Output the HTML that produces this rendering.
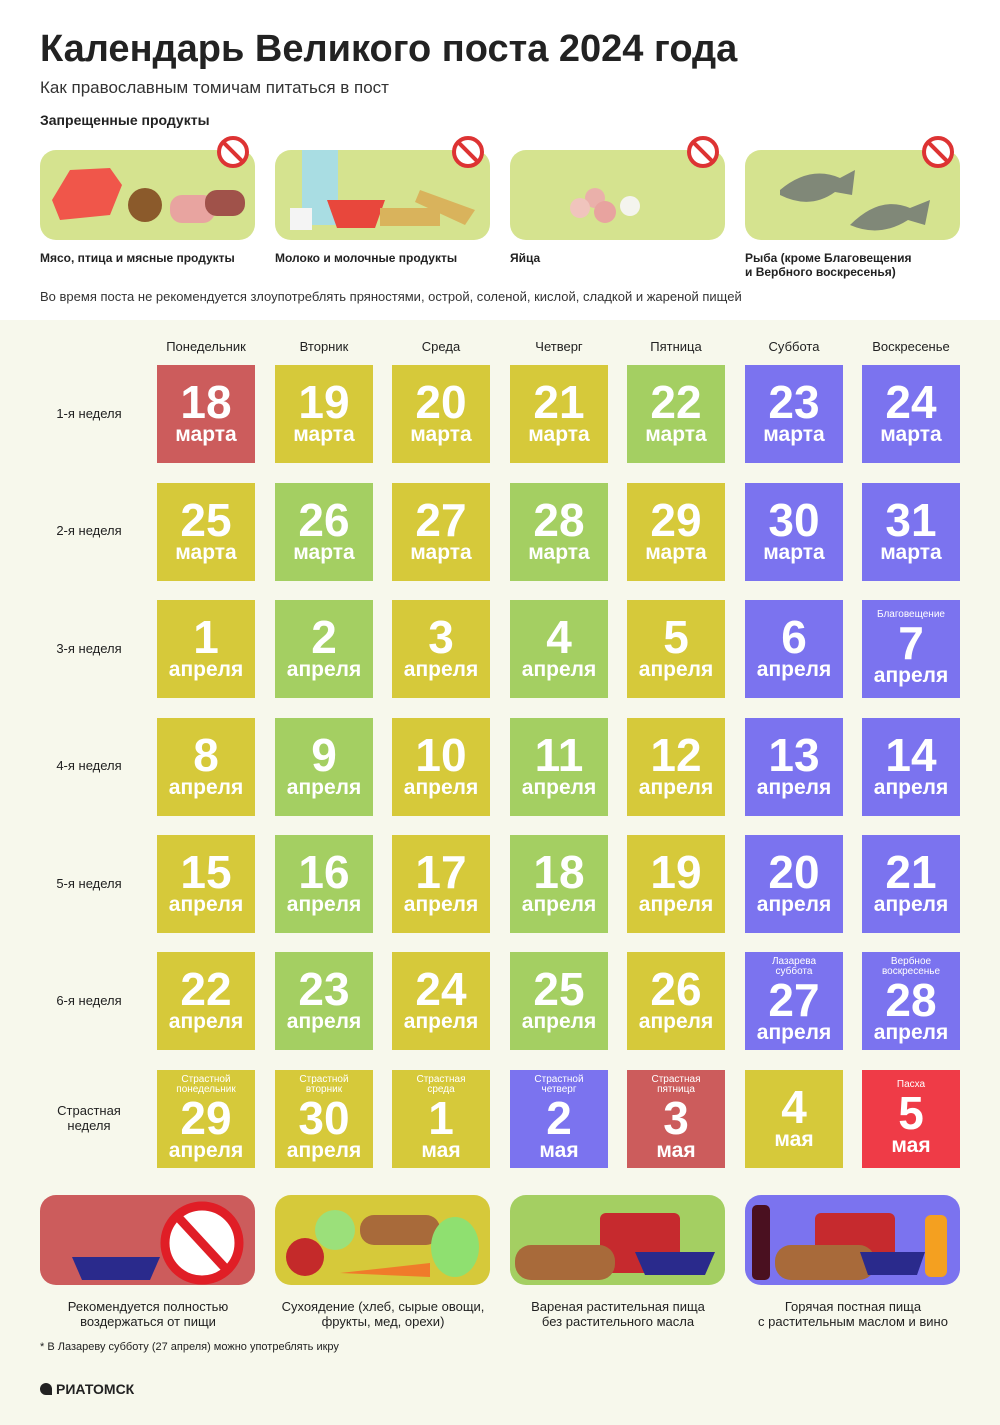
<!DOCTYPE html><html><head><meta charset="utf-8"><style>
body{margin:0;width:1000px;height:1425px;position:relative;background:#fff;font-family:"Liberation Sans",sans-serif;overflow:hidden}
.a{position:absolute}
.bg{position:absolute;left:0;top:320px;width:1000px;height:1105px;background:#f7f8ec}
.c{position:absolute;width:98px;height:98px;color:#fff;display:flex;flex-direction:column;align-items:center;justify-content:center;font-family:"Liberation Sans Narrow","Liberation Sans",sans-serif;font-weight:bold}
.c b{font-size:46px;line-height:42px}
.c i{font-style:normal;font-size:21px;line-height:24px}
.c s{text-decoration:none;font-size:10px;line-height:10px;font-weight:normal;text-align:center;margin-bottom:2px}
.Y{background:#d6c93a}.G{background:#a4cf62}.P{background:#7b73ef}.R{background:#cc5c5c}.B{background:#ef3b47}
.day{position:absolute;top:339px;width:98px;text-align:center;font-size:13px;color:#222}
.wk{position:absolute;left:30px;width:118px;text-align:center;font-size:13px;color:#222}
.tp{position:absolute;top:150px;width:215px;height:90px;border-radius:16px;background:#d5e38f}
.tl{position:absolute;top:251px;font-size:12px;font-weight:bold;color:#222}
.bp{position:absolute;top:1195px;width:215px;height:90px;border-radius:16px}
.bl{position:absolute;top:1299px;width:240px;text-align:center;font-size:13px;color:#222;line-height:15px}
.no{position:absolute;width:24px;height:24px;border:4px solid #d33;border-radius:50%;background:#fff;top:136px}
.no:after{content:"";position:absolute;left:-2px;top:10px;width:28px;height:4px;background:#d33;transform:rotate(45deg)}
</style></head><body>
<div class="bg"></div>
<div class="a" style="left:40px;top:28px;font-size:38px;font-weight:bold;color:#222">Календарь Великого поста 2024 года</div>
<div class="a" style="left:40px;top:78px;font-size:17px;color:#333">Как православным томичам питаться в пост</div>
<div class="a" style="left:40px;top:112px;font-size:14px;font-weight:bold;color:#222">Запрещенные продукты</div>
<div class="tp" style="left:40px"></div><div class="tp" style="left:275px"></div><div class="tp" style="left:510px"></div><div class="tp" style="left:745px"></div>
<div class="no" style="left:217px"></div><div class="no" style="left:452px"></div><div class="no" style="left:687px"></div><div class="no" style="left:922px"></div>
<svg class="a" style="left:40px;top:140px" width="920" height="100">
<path d="M12 60 L30 30 L70 28 L82 45 L70 75 L20 80Z" fill="#f0564a"/><ellipse cx="105" cy="65" rx="17" ry="17" fill="#8b5a2b"/><rect x="130" y="55" width="45" height="28" rx="12" fill="#e8a4a0"/><rect x="165" y="50" width="40" height="26" rx="12" fill="#a0524a"/>
<rect x="262" y="10" width="36" height="75" fill="#a9dde3"/><rect x="250" y="68" width="22" height="22" fill="#f4f4f4"/><path d="M287 60 L345 60 L335 88 L297 88Z" fill="#e8473c"/><rect x="340" y="68" width="60" height="18" fill="#d9b35c"/><path d="M380 50 L435 70 L425 85 L375 62Z" fill="#d9b35c"/>
<circle cx="555" cy="58" r="10" fill="#eab0aa"/><circle cx="540" cy="68" r="10" fill="#f0c4bd"/><circle cx="565" cy="72" r="11" fill="#e8a39f"/><circle cx="590" cy="66" r="10" fill="#f4f4ee"/>
<path d="M740 50 Q770 25 800 38 L815 30 L812 55 L795 52 Q770 70 740 55Z" fill="#808878"/><path d="M810 85 Q840 55 870 68 L890 60 L885 85 L868 80 Q840 98 810 85Z" fill="#808878"/>
</svg>
<div class="tl" style="left:40px">Мясо, птица и мясные продукты</div>
<div class="tl" style="left:275px">Молоко и молочные продукты</div>
<div class="tl" style="left:510px">Яйца</div>
<div class="tl" style="left:745px">Рыба (кроме Благовещения<br>и Вербного воскресенья)</div>
<div class="a" style="left:40px;top:289px;font-size:13px;color:#333">Во время поста не рекомендуется злоупотреблять пряностями, острой, соленой, кислой, сладкой и жареной пищей</div>

<div class="day" style="left:157px">Понедельник</div><div class="day" style="left:275px">Вторник</div><div class="day" style="left:392px">Среда</div><div class="day" style="left:510px">Четверг</div><div class="day" style="left:627px">Пятница</div><div class="day" style="left:745px">Суббота</div><div class="day" style="left:862px">Воскресенье</div>
<div class="wk" style="top:406px">1-я неделя</div><div class="wk" style="top:523px">2-я неделя</div><div class="wk" style="top:641px">3-я неделя</div><div class="wk" style="top:758px">4-я неделя</div><div class="wk" style="top:876px">5-я неделя</div><div class="wk" style="top:993px">6-я неделя</div><div class="wk" style="top:1103px">Страстная<br>неделя</div>

<div class="c R" style="left:157px;top:365px"><b>18</b><i>марта</i></div>
<div class="c Y" style="left:275px;top:365px"><b>19</b><i>марта</i></div>
<div class="c Y" style="left:392px;top:365px"><b>20</b><i>марта</i></div>
<div class="c Y" style="left:510px;top:365px"><b>21</b><i>марта</i></div>
<div class="c G" style="left:627px;top:365px"><b>22</b><i>марта</i></div>
<div class="c P" style="left:745px;top:365px"><b>23</b><i>марта</i></div>
<div class="c P" style="left:862px;top:365px"><b>24</b><i>марта</i></div>

<div class="c Y" style="left:157px;top:483px"><b>25</b><i>марта</i></div>
<div class="c G" style="left:275px;top:483px"><b>26</b><i>марта</i></div>
<div class="c Y" style="left:392px;top:483px"><b>27</b><i>марта</i></div>
<div class="c G" style="left:510px;top:483px"><b>28</b><i>марта</i></div>
<div class="c Y" style="left:627px;top:483px"><b>29</b><i>марта</i></div>
<div class="c P" style="left:745px;top:483px"><b>30</b><i>марта</i></div>
<div class="c P" style="left:862px;top:483px"><b>31</b><i>марта</i></div>

<div class="c Y" style="left:157px;top:600px"><b>1</b><i>апреля</i></div>
<div class="c G" style="left:275px;top:600px"><b>2</b><i>апреля</i></div>
<div class="c Y" style="left:392px;top:600px"><b>3</b><i>апреля</i></div>
<div class="c G" style="left:510px;top:600px"><b>4</b><i>апреля</i></div>
<div class="c Y" style="left:627px;top:600px"><b>5</b><i>апреля</i></div>
<div class="c P" style="left:745px;top:600px"><b>6</b><i>апреля</i></div>
<div class="c P" style="left:862px;top:600px"><s>Благовещение</s><b>7</b><i>апреля</i></div>

<div class="c Y" style="left:157px;top:718px"><b>8</b><i>апреля</i></div>
<div class="c G" style="left:275px;top:718px"><b>9</b><i>апреля</i></div>
<div class="c Y" style="left:392px;top:718px"><b>10</b><i>апреля</i></div>
<div class="c G" style="left:510px;top:718px"><b>11</b><i>апреля</i></div>
<div class="c Y" style="left:627px;top:718px"><b>12</b><i>апреля</i></div>
<div class="c P" style="left:745px;top:718px"><b>13</b><i>апреля</i></div>
<div class="c P" style="left:862px;top:718px"><b>14</b><i>апреля</i></div>

<div class="c Y" style="left:157px;top:835px"><b>15</b><i>апреля</i></div>
<div class="c G" style="left:275px;top:835px"><b>16</b><i>апреля</i></div>
<div class="c Y" style="left:392px;top:835px"><b>17</b><i>апреля</i></div>
<div class="c G" style="left:510px;top:835px"><b>18</b><i>апреля</i></div>
<div class="c Y" style="left:627px;top:835px"><b>19</b><i>апреля</i></div>
<div class="c P" style="left:745px;top:835px"><b>20</b><i>апреля</i></div>
<div class="c P" style="left:862px;top:835px"><b>21</b><i>апреля</i></div>

<div class="c Y" style="left:157px;top:952px"><b>22</b><i>апреля</i></div>
<div class="c G" style="left:275px;top:952px"><b>23</b><i>апреля</i></div>
<div class="c Y" style="left:392px;top:952px"><b>24</b><i>апреля</i></div>
<div class="c G" style="left:510px;top:952px"><b>25</b><i>апреля</i></div>
<div class="c Y" style="left:627px;top:952px"><b>26</b><i>апреля</i></div>
<div class="c P" style="left:745px;top:952px"><s>Лазарева<br>суббота</s><b>27</b><i>апреля</i></div>
<div class="c P" style="left:862px;top:952px"><s>Вербное<br>воскресенье</s><b>28</b><i>апреля</i></div>

<div class="c Y" style="left:157px;top:1070px"><s>Страстной<br>понедельник</s><b>29</b><i>апреля</i></div>
<div class="c Y" style="left:275px;top:1070px"><s>Страстной<br>вторник</s><b>30</b><i>апреля</i></div>
<div class="c Y" style="left:392px;top:1070px"><s>Страстная<br>среда</s><b>1</b><i>мая</i></div>
<div class="c P" style="left:510px;top:1070px"><s>Страстной<br>четверг</s><b>2</b><i>мая</i></div>
<div class="c R" style="left:627px;top:1070px"><s>Страстная<br>пятница</s><b>3</b><i>мая</i></div>
<div class="c Y" style="left:745px;top:1070px"><b>4</b><i>мая</i></div>
<div class="c B" style="left:862px;top:1070px"><s>Пасха</s><b>5</b><i>мая</i></div>

<div class="bp" style="left:40px;background:#cc5c5c"></div>
<div class="bp" style="left:275px;background:#d6c93a"></div>
<div class="bp" style="left:510px;background:#a4cf62"></div>
<div class="bp" style="left:745px;background:#7b73ef"></div>
<svg class="a" style="left:40px;top:1195px" width="920" height="90">
<path d="M32 62 L120 62 L110 85 L42 85Z" fill="#2a2a8c"/><circle cx="162" cy="48" r="37" fill="#fff" stroke="#e01e26" stroke-width="9"/><line x1="138" y1="22" x2="186" y2="74" stroke="#e01e26" stroke-width="9"/>
<circle cx="265" cy="62" r="19" fill="#c42a2a"/><circle cx="295" cy="35" r="20" fill="#9be07a"/><rect x="320" y="20" width="80" height="30" rx="14" fill="#a86a3a"/><ellipse cx="415" cy="52" rx="24" ry="30" fill="#8fe070"/><path d="M300 78 L390 68 L390 82Z" fill="#f07b2a"/>
<rect x="560" y="18" width="80" height="60" rx="6" fill="#c62a2e"/><rect x="475" y="50" width="100" height="35" rx="16" fill="#a86a3a"/><path d="M595 57 L675 57 L665 80 L605 80Z" fill="#2a2a8c"/>
<rect x="712" y="10" width="18" height="75" rx="5" fill="#4a1020"/><rect x="775" y="18" width="80" height="60" rx="6" fill="#c62a2e"/><rect x="735" y="50" width="100" height="35" rx="16" fill="#a86a3a"/><path d="M820 57 L885 57 L877 80 L828 80Z" fill="#2a2a8c"/><rect x="885" y="20" width="22" height="62" rx="6" fill="#f4a020"/>
</svg>
<div class="bl" style="left:28px">Рекомендуется полностью<br>воздержаться от пищи</div>
<div class="bl" style="left:263px">Сухоядение (хлеб, сырые овощи,<br>фрукты, мед, орехи)</div>
<div class="bl" style="left:498px">Вареная растительная пища<br>без растительного масла</div>
<div class="bl" style="left:733px">Горячая постная пища<br>с растительным маслом и вино</div>
<div class="a" style="left:40px;top:1341px;font-size:11px;color:#222">* В Лазареву субботу (27 апреля) можно употреблять икру</div>
<div class="a" style="left:40px;top:1381px;font-size:14px;font-weight:bold;color:#222"><span style="display:inline-block;width:12px;height:12px;border-radius:6px 6px 0 6px;background:#222;vertical-align:-1px;margin-right:4px"></span>РИАТОМСК</div>
</body></html>
